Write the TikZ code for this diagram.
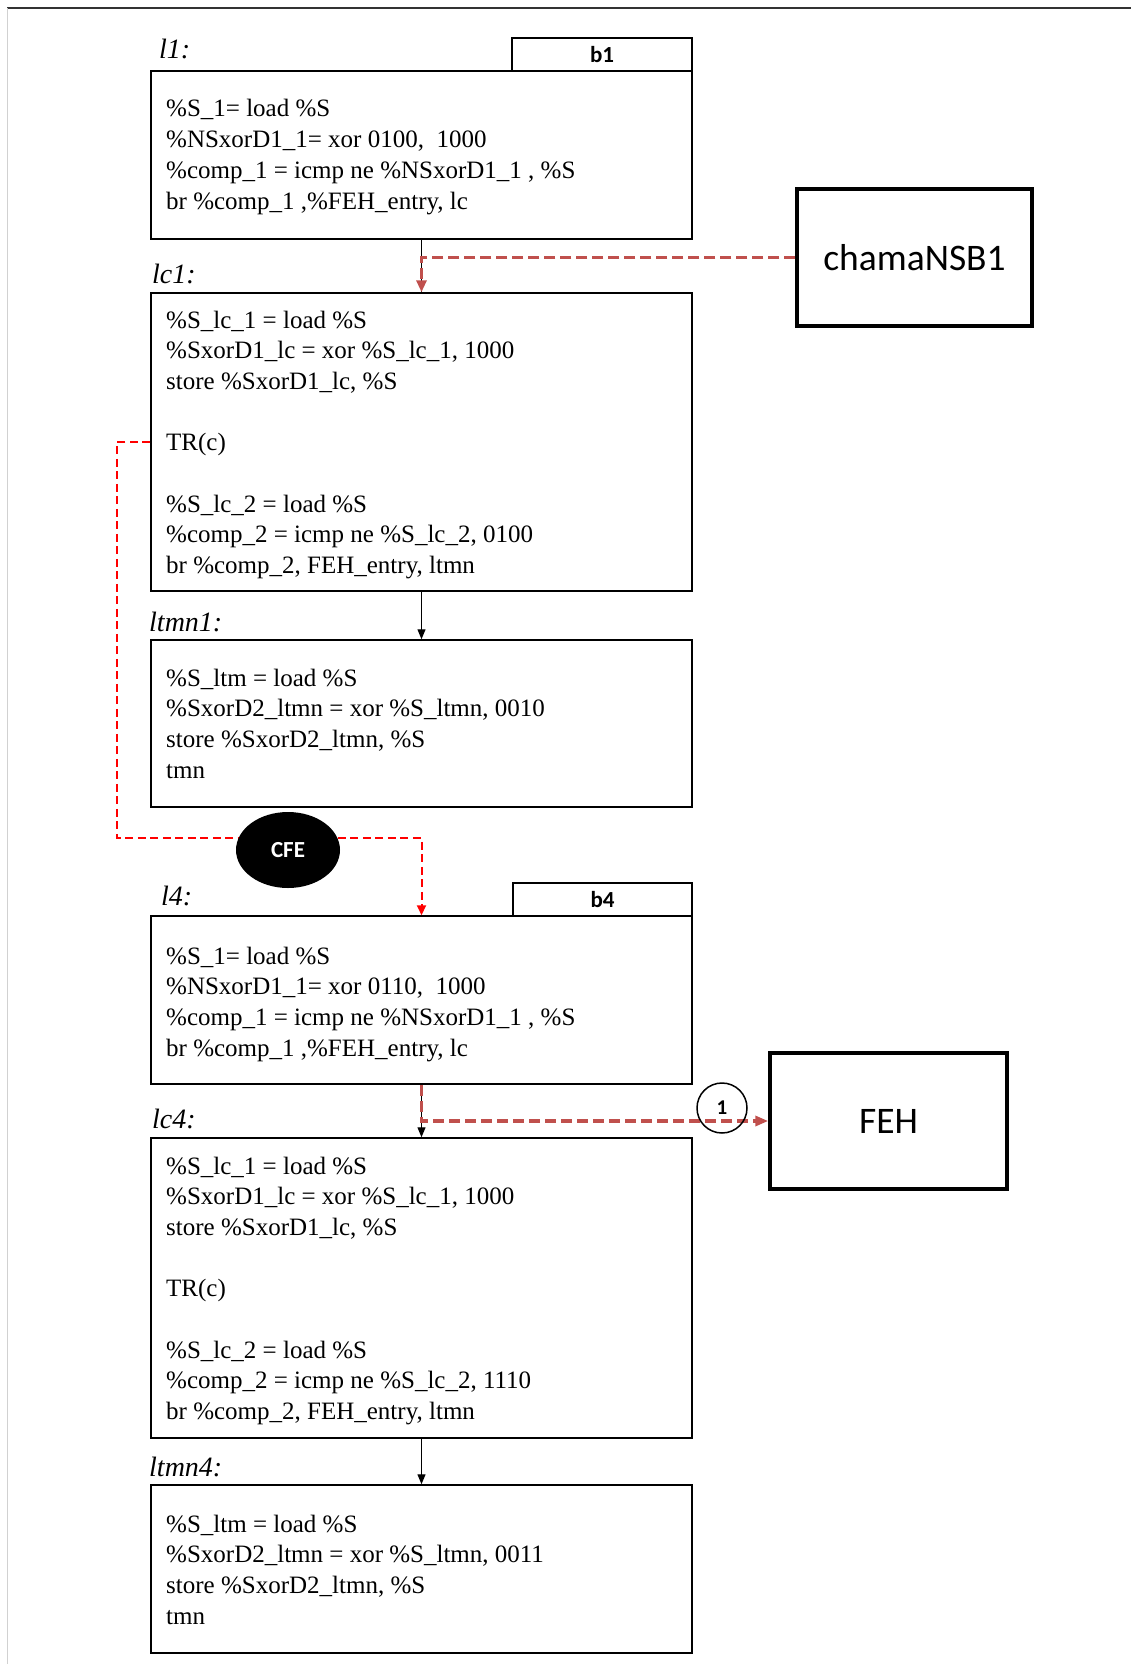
\documentclass[tikz,border=0pt]{standalone}
\usepackage{fontspec}
\setmainfont{Liberation Serif}
\newfontfamily\calfont{Carlito}
\usetikzlibrary{arrows.meta,shapes.geometric}
\definecolor{brred}{HTML}{C0504D}
\newcommand{\codefont}{\fontsize{25}{30.7}\selectfont}
\begin{document}
\begin{tikzpicture}[x=1pt,y=-1pt,
  box/.style={draw,line width=1.5pt,rectangle,inner sep=0pt,minimum width=541pt},
  tabbox/.style={draw,line width=1.5pt,rectangle,inner sep=0pt,font=\calfont\bfseries\fontsize{23}{23}\selectfont},
  bigbox/.style={draw,line width=3.5pt,rectangle,inner sep=0pt,font=\calfont\fontsize{37.5}{37.5}\selectfont},
  lbl/.style={anchor=base west,inner sep=0pt,font=\itshape\fontsize{28}{28}\selectfont},
  code/.style={anchor=base west,inner sep=0pt},
  flow/.style={line width=1.2pt,-{Triangle[length=10pt,width=8pt]}},
  brdash/.style={draw=brred,line width=3.5pt,dash pattern=on 11pt off 5pt},
  rdash/.style={draw=red,line width=2pt,dash pattern=on 8pt off 4.5pt}]
\useasboundingbox (0,0) rectangle (1131,1664);
% frame
\draw[line width=1.2pt,black!80] (7,8) -- (1131,8);
\draw[line width=1pt,black!18] (7,8) -- (7,1664);

% ---- block 1 ----
\node[box,minimum height=168pt] (l1) at (421.5,155) {};
\node[tabbox,minimum width=180pt,minimum height=33pt] (b1) at (602,54.5) {b1};
\node[lbl] (l1l) at (159,59) {l1:};
\node[code] (l1t) at (166,117) {\parbox[t]{520pt}{\codefont
\%S\_1= load \%S\\
\%NSxorD1\_1= xor 0100,\ \ 1000\\
\%comp\_1 = icmp ne \%NSxorD1\_1 , \%S\\
br \%comp\_1 ,\%FEH\_entry, lc}};

\node[box,minimum height=298pt] (lc1) at (421.5,442) {};
\node[lbl] (lc1l) at (152,283) {lc1:};
\node[code] (lc1t) at (166,328) {\parbox[t]{520pt}{\codefont
\%S\_lc\_1 = load \%S\\
\%SxorD1\_lc = xor \%S\_lc\_1, 1000\\
store \%SxorD1\_lc, \%S\\
\mbox{}\\
TR(c)\\
\mbox{}\\
\%S\_lc\_2 = load \%S\\
\%comp\_2 = icmp ne \%S\_lc\_2, 0100\\
br \%comp\_2, FEH\_entry, ltmn}};

\node[box,minimum height=167pt] (ltmn1) at (421.5,723.5) {};
\node[lbl] (ltmn1l) at (149,631) {ltmn1:};
\node[code] (ltmn1t) at (166,686) {\parbox[t]{520pt}{\codefont
\%S\_ltm = load \%S\\
\%SxorD2\_ltmn = xor \%S\_ltmn, 0010\\
store \%SxorD2\_ltmn, \%S\\
tmn}};

% ---- block 4 ----
\node[box,minimum height=168pt] (l4) at (421.5,1000) {};
\node[tabbox,minimum width=179pt,minimum height=33pt] (b4) at (602.5,899.5) {b4};
\node[lbl] (l4l) at (161,905) {l4:};
\node[code] (l4t) at (166,964) {\parbox[t]{520pt}{\codefont
\%S\_1= load \%S\\
\%NSxorD1\_1= xor 0110,\ \ 1000\\
\%comp\_1 = icmp ne \%NSxorD1\_1 , \%S\\
br \%comp\_1 ,\%FEH\_entry, lc}};

\node[box,minimum height=300pt] (lc4) at (421.5,1288) {};
\node[lbl] (lc4l) at (152,1128) {lc4:};
\node[code] (lc4t) at (166,1174) {\parbox[t]{520pt}{\codefont
\%S\_lc\_1 = load \%S\\
\%SxorD1\_lc = xor \%S\_lc\_1, 1000\\
store \%SxorD1\_lc, \%S\\
\mbox{}\\
TR(c)\\
\mbox{}\\
\%S\_lc\_2 = load \%S\\
\%comp\_2 = icmp ne \%S\_lc\_2, 1110\\
br \%comp\_2, FEH\_entry, ltmn}};

\node[box,minimum height=168pt] (ltmn4) at (421.5,1569) {};
\node[lbl] (ltmn4l) at (149,1476) {ltmn4:};
\node[code] (ltmn4t) at (166,1532) {\parbox[t]{520pt}{\codefont
\%S\_ltm = load \%S\\
\%SxorD2\_ltmn = xor \%S\_ltmn, 0011\\
store \%SxorD2\_ltmn, \%S\\
tmn}};

% ---- side boxes ----
\node[bigbox,minimum width=235pt,minimum height=137pt] (cham) at (914.5,257.5) {chamaNSB1};
\node[bigbox,minimum width=237pt,minimum height=136pt] (FEH) at (888.5,1121) {FEH};

% ---- connectors ----
\draw[line width=1.2pt] (l1.south) -- (lc1.north);
\coordinate (c1) at (lc1.north |- cham.west);
\draw[brdash,-{Triangle[length=12pt,width=10pt]}] (cham.west) -- (c1) -- (lc1.north);

\draw[flow] (lc1.south) -- (ltmn1.north);

\coordinate (r1) at (117,442);
\coordinate (r2) at (117,838);
\coordinate (r3) at (421.5,838);
\draw[rdash,-{Triangle[length=10pt,width=9pt]}] (lc1.west) -- (r1) -- (r2) -- (r3) -- (l4.north);
\node[ellipse,fill=black,minimum width=104pt,minimum height=76pt,inner sep=0pt,text=white,font=\calfont\bfseries\fontsize{23}{23}\selectfont] (cfe) at (288,850) {CFE};

\draw[flow] (l4.south) -- (lc4.north);
\coordinate (f1) at (l4.south |- FEH.west);
\draw[brdash,-{Triangle[length=13pt,width=10pt]}] (l4.south) -- (f1) -- (FEH.west);
\node[circle,draw,line width=1.5pt,minimum size=50pt,inner sep=0pt,font=\calfont\bfseries\fontsize{21}{21}\selectfont] (one) at (722,1108) {1};

\draw[flow] (lc4.south) -- (ltmn4.north);
\end{tikzpicture}
\end{document}
